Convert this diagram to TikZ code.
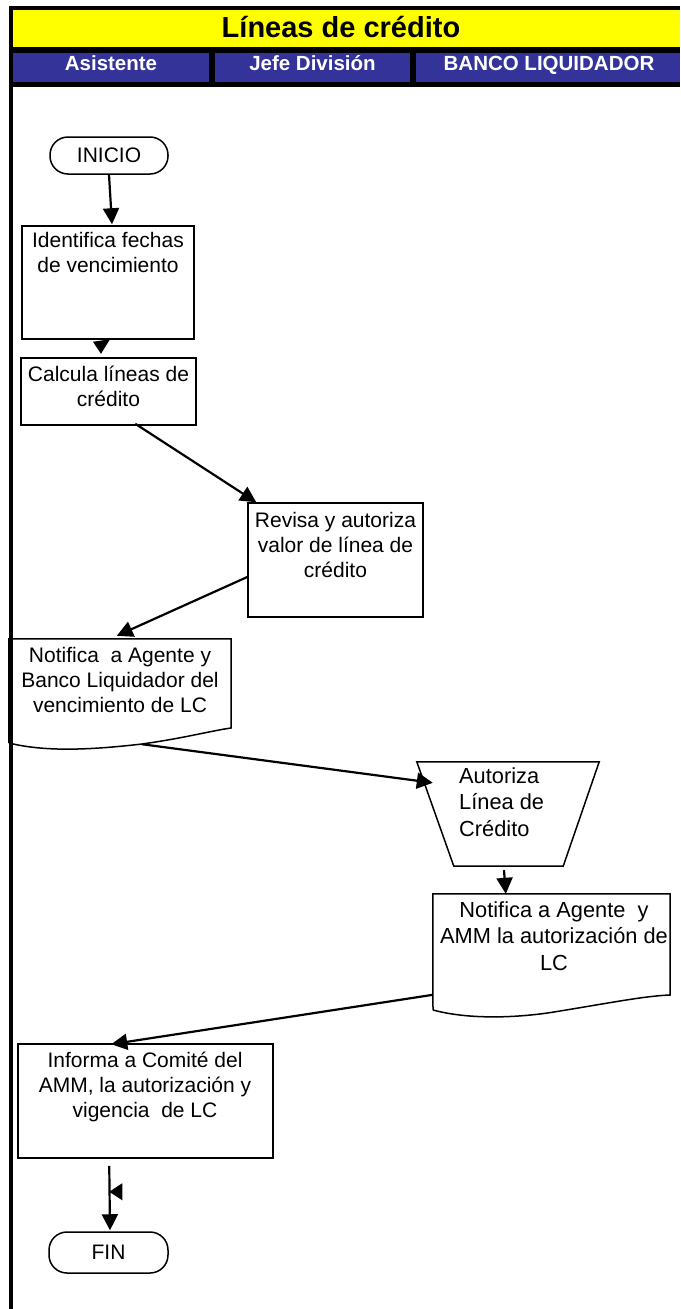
\documentclass[tikz,border=0pt]{standalone}
\usepackage{fontspec}
\setmainfont{Liberation Sans}
\usetikzlibrary{arrows.meta,calc}
\definecolor{hdrblue}{HTML}{333399}
\definecolor{hdryellow}{HTML}{FFFF00}
\begin{document}
\begin{tikzpicture}[x=1pt,y=-1pt,
  proc/.style={draw,line width=1.5pt,inner sep=0pt},
  frame/.style={inner sep=0pt},
  term/.style={draw,line width=1.5pt,rounded corners=18pt,inner sep=0pt,
    font=\fontsize{21}{25}\selectfont},
  txt/.style={inner sep=0pt,anchor=north,align=center,
    font=\fontsize{21}{25}\selectfont},
  txtwide/.style={txt,font=\fontsize{21.8}{26.5}\selectfont},
  lane/.style={fill=hdrblue,inner sep=0pt,anchor=north west,minimum height=29pt},
  lanetxt/.style={anchor=base,inner sep=0pt,text=white,
    font=\fontsize{20.5}{24}\selectfont\bfseries},
  flow/.style={line width=2.2pt,-{Triangle[length=16pt,width=16pt]}},
  shapeline/.style={line width=1.5pt,line join=miter}]
\useasboundingbox (0,0) rectangle (680,1309);

% header frame, title band and swimlane heads
\fill (9,6) rectangle (680,87);
\node[fill=hdryellow,inner sep=0pt,anchor=north west,minimum width=667pt,minimum height=37pt] (band) at (13,10) {};
\node[anchor=base,inner sep=0pt,font=\fontsize{29}{32}\selectfont\bfseries] (title) at (341,37.3) {Líneas de crédito};
\node[lane,minimum width=196pt] (lane1) at (13,53) {};
\node[lane,minimum width=195pt] (lane2) at (215,53) {};
\node[lane,minimum width=264pt] (lane3) at (416,53) {};
\node[lanetxt] (lane1t) at (111,70.7) {Asistente};
\node[lanetxt] (lane2t) at (312.5,70.7) {Jefe División};
\node[lanetxt] (lane3t) at (549,70.7) {BANCO LIQUIDADOR};
% left border of the lanes
\fill (9,87) rectangle (13,1309);

% terminals
\node[term,minimum width=118pt,minimum height=37pt] (start) at (109,155.5) {INICIO};
\node[term,minimum width=119pt,minimum height=41pt] (fin) at (108.5,1252.5) {FIN};

% process boxes
\node[proc,minimum width=172pt,minimum height=113pt] (b1) at (108,282.5) {};
\node[txt] (b1t) at (108,227) {\rule{0pt}{20pt}Identifica fechas\\de vencimiento};

\node[proc,minimum width=175pt,minimum height=67pt] (b2) at (108.5,391.5) {};
\node[txt] (b2t) at (108.5,361) {\rule{0pt}{20pt}Calcula líneas de\\crédito};

\node[proc,minimum width=175pt,minimum height=114pt] (b3) at (335.5,560) {};
\node[txt] (b3t) at (335.5,507) {\rule{0pt}{20pt}Revisa y autoriza\\valor de línea de\\crédito};

% document: notice of expiry
\node[frame,minimum width=222pt,minimum height=104pt] (b4) at (120,691) {};
\draw[shapeline] (9,743) -- (b4.north west) -- (b4.north east) -- (231,728)
  .. controls (210,731) and (185,738) .. (142,744)
  .. controls (90,750) and (45,752) .. (9,743);
\node[txt] (b4t) at (120,642) {\rule{0pt}{20pt}Notifica~ a Agente y\\Banco Liquidador del\\vencimiento de LC};

% manual operation: authorisation
\node[frame,minimum width=182pt,minimum height=104pt] (t5) at (508,814) {};
\draw[shapeline] (t5.north west) -- (t5.north east) -- ($(t5.south east)+(-36,0)$)
  -- ($(t5.south west)+(37,0)$) -- cycle;
\node[txtwide,anchor=north west,align=left] (t5t) at (459,763) {\rule{0pt}{20pt}Autoriza\\Línea de\\Crédito};

% document: notice of authorisation
\node[frame,minimum width=237pt,minimum height=116pt] (b6) at (551.5,952) {};
\draw[shapeline] (433,1010) -- (b6.north west) -- (b6.north east) -- (670,995)
  .. controls (645,996) and (615,1002) .. (560,1011)
  .. controls (520,1018) and (470,1020) .. (433,1010);
\node[txtwide] (b6t) at (554,897) {\rule{0pt}{20pt}Notifica a Agente~ y\\AMM la autorización de\\LC};

\node[proc,minimum width=255pt,minimum height=114pt] (b7) at (145.5,1101) {};
\node[txt] (b7t) at (145,1047) {\rule{0pt}{20pt}Informa a Comité del\\AMM, la autorización y\\vigencia~ de LC};

% connectors
\draw[flow] (start.south) -- ($(b1.north)+(4,-1)$);
% short link between the first two boxes: only its head shows
\fill ($(b1.south)+(-15,2)$) -- ($(b1.south)+(2,-0.5)$) -- ($(b1.south)+(-7,14)$) -- cycle;
\draw[flow] ($(b2.south west)+(115,-2)$) -- ($(b3.north west)+(9,0)$);
\draw[flow] ($(b3.west)+(0,17)$) -- ($(b4.north west)+(108,-3)$);
\draw[flow] ($(b4.south west)+(133,1)$) -- ($(t5.north west)+(16,21)$);
\draw[flow] ($(t5.south)+(-4,4)$) -- ($(b6.north west)+(73,0)$);
\draw[flow] ($(b6.north west)+(0,101)$) -- ($(b7.north west)+(94,1)$);
\draw[flow] ($(b7.south west)+(92,7)$) -- ($(fin.north)+(1.5,-1)$);
% loose arrowhead on the last connector
\fill ($(b7.south west)+(92,33)$) -- ++(13,-8.5) -- ++(0,17) -- cycle;
\end{tikzpicture}
\end{document}
